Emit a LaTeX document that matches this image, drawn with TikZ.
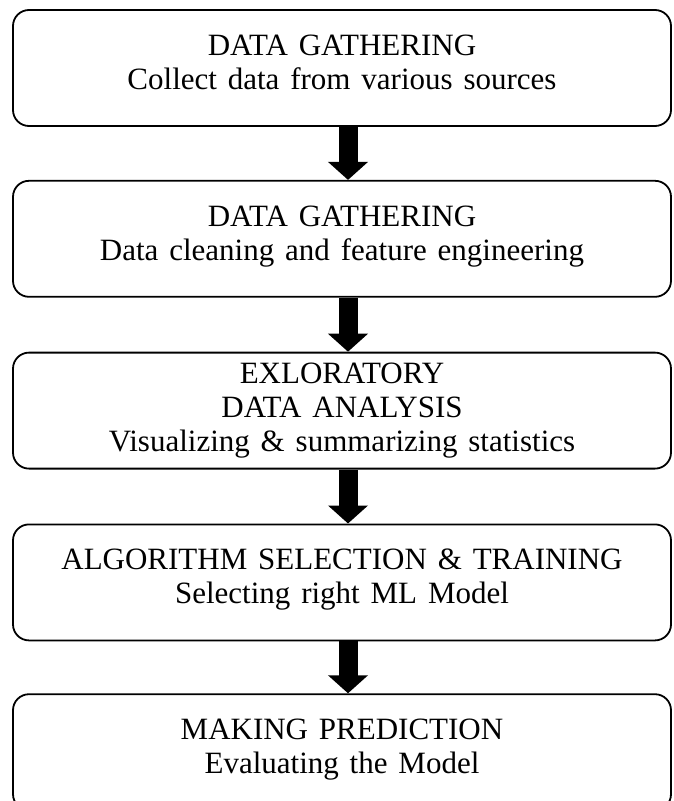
\documentclass[tikz,border=0pt]{standalone}
\usepackage{fontspec}
\setmainfont{Liberation Serif}[WordSpace=1.4]
\usetikzlibrary{positioning,arrows.meta}
\tikzset{
  stage/.style={draw=black, line width=1.8pt, rounded corners=16pt,
    minimum width=658pt, minimum height=116pt, inner sep=0pt,
    align=center, font=\fontsize{31}{34}\selectfont},
  twoline/.style={text depth=12pt},
  flow/.style={draw=black, line width=19pt,
    -{Triangle[width=39pt,length=18pt]}}
}

\begin{document}
\begin{tikzpicture}[x=1pt,y=1pt]
  \useasboundingbox (0,0) rectangle (673,-801);
  \clip (0,0) rectangle (673,-801);

  \node[stage, twoline] (gather) at (342,-68) {DATA GATHERING\\Collect data from various sources};
  \node[stage, twoline, below=53pt of gather] (clean) {DATA GATHERING\\Data cleaning and feature engineering};
  \node[stage, below=54pt of clean] (eda) {EXLORATORY\\DATA ANALYSIS\\Visualizing \& summarizing statistics};
  \node[stage, twoline, below=54pt of eda] (train) {ALGORITHM SELECTION \& TRAINING\\Selecting right ML Model};
  \node[stage, twoline, below=52pt of train] (predict) {MAKING PREDICTION\\Evaluating the Model};

  \draw[flow] ([xshift=6pt]gather.south) -- ([xshift=6pt]clean.north);
  \draw[flow] ([xshift=6pt]clean.south) -- ([xshift=6pt]eda.north);
  \draw[flow] ([xshift=6pt]eda.south) -- ([xshift=6pt]train.north);
  \draw[flow] ([xshift=6pt]train.south) -- ([xshift=6pt]predict.north);
\end{tikzpicture}
\end{document}
